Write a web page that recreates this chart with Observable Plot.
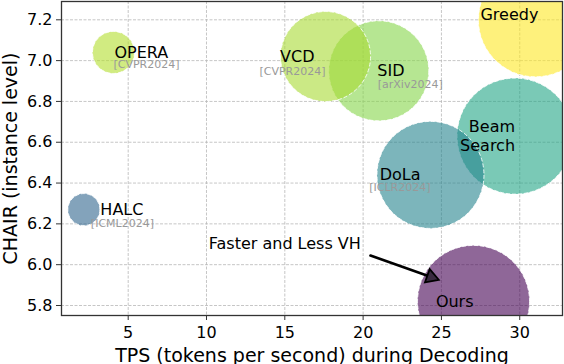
<!DOCTYPE html>
<html><head><meta charset="utf-8">
<script src="https://cdn.jsdelivr.net/npm/d3@7"></script>
<script src="https://cdn.jsdelivr.net/npm/@observablehq/plot@0.6"></script>
<style>
body{margin:0;background:#fff;}
#chart svg{display:block;}
</style></head><body><div id="chart"></div>
<script>
// ---- data ----
const methods = ["Greedy", "Beam\nSearch", "DoLa", "VCD", "SID", "OPERA", "HALC", "Ours"];
const venues  = ["", "", "[ICLR2024]", "[CVPR2024]", "[arXiv2024]", "[CVPR2024]", "[ICML2024]", ""];
const tps     = [31.0, 29.7, 24.3, 17.6, 21.0, 4.06, 2.17, 27.05];
const chair   = [7.20, 6.63, 6.44, 7.02, 6.95, 7.04, 6.27, 5.82];
const bubbleSize = [57, 58, 53.5, 45, 50, 21, 16, 56];
const xTicks = [5, 10, 15, 20, 25, 30];
const yTicks = [5.8, 6.0, 6.2, 6.4, 6.6, 6.8, 7.0, 7.2];
const xLabel = "TPS (tokens per second) during Decoding";
const yLabel = "CHAIR (instance level)";
const noteText = "Faster and Less VH";
const noteAt = [15, 6.1];
const arrowFrom = [20.47, 6.045];
const arrowTo = [24.83, 5.926];

// ---- layout ----
const W = 564, H = 364, mL = 61, mR = 2, mT = 1, mB = 49;
const xDomain = [0.742, 32.73], yDomain = [5.751, 7.2897];

const nameLayout = {
  "Greedy": {a: "end", dx: 3, dy: -6},
  "Beam\nSearch": {a: "end", dx: 0, dy: -1},
  "DoLa": {a: "end", dx: -10, dy: -1},
  "VCD": {a: "end", dx: -11, dy: -0.5},
  "SID": {a: "start", dx: -1.5, dy: -0.5},
  "OPERA": {a: "start", dx: 1, dy: -0.5},
  "HALC": {a: "start", dx: 16.5, dy: -0.5},
  "Ours": {a: "end", dx: 0, dy: -0.5}
};
const venueLayout = {
  "DoLa": {a: "end", dx: 0, dy: 13},
  "VCD": {a: "end", dx: 0, dy: 14.5},
  "SID": {a: "start", dx: -1, dy: 13.5},
  "OPERA": {a: "start", dx: 0, dy: 12.5},
  "HALC": {a: "start", dx: 7, dy: 13.5}
};

const rows = methods.map((m, i) => ({method: m, venue: venues[i], tps: tps[i], chair: chair[i], size: bubbleSize[i]}));

const nameMarks = rows.map(d => {
  const L = nameLayout[d.method];
  return Plot.text([d], {x: "tps", y: "chair", text: "method", textAnchor: L.a, dx: L.dx, dy: L.dy,
    fontSize: 16, fill: "black", lineHeight: 1.18});
});
const venueMarks = rows.filter(d => d.venue).map(d => {
  const L = venueLayout[d.method];
  return Plot.text([d], {x: "tps", y: "chair", text: "venue", textAnchor: L.a, dx: L.dx, dy: L.dy,
    fontSize: 11, fill: "#999"});
});

// arrow head geometry (pixel direction from the scale setup)
const kx = (W - mL - mR) / (xDomain[1] - xDomain[0]);
const ky = (H - mT - mB) / (yDomain[1] - yDomain[0]);
const pdx = (arrowTo[0] - arrowFrom[0]) * kx, pdy = -(arrowTo[1] - arrowFrom[1]) * ky;
const ang = Math.atan2(pdy, pdx);
const headR = 5.2;
const headSize = Math.PI * headR * headR;
const yTri = Math.sqrt(headSize / (3 * Math.sqrt(3)));
const tipDist = 2 * yTri, headLen = 3 * yTri;

const chart = Plot.plot({
  width: W, height: H,
  marginLeft: mL, marginRight: mR, marginTop: mT, marginBottom: mB,
  x: {domain: xDomain},
  y: {domain: yDomain},
  r: {type: "linear", domain: [0, 60], range: [0, 60]},
  color: {scheme: "viridis"},
  style: {fontFamily: "DejaVu Sans", fontSize: "16px", color: "black", background: "white"},
  marks: [
    Plot.gridX(xTicks, {stroke: "#b8b8b8", strokeOpacity: 1, strokeWidth: 0.8, strokeDasharray: "3,1.5"}),
    Plot.gridY(yTicks, {stroke: "#b8b8b8", strokeOpacity: 1, strokeWidth: 0.8, strokeDasharray: "3,1.5"}),
    Plot.dot(rows, {x: "tps", y: "chair", r: "size", fill: "chair", fillOpacity: 0.6,
      stroke: "white", strokeOpacity: 0.85, strokeWidth: 1, strokeDasharray: "4,2", clip: true}),
    ...nameMarks,
    ...venueMarks,
    Plot.text([noteText], {x: () => noteAt[0], y: () => noteAt[1], text: d => d, fontSize: 16, fill: "black"}),
    Plot.arrow([0], {x1: () => arrowFrom[0], y1: () => arrowFrom[1], x2: () => arrowTo[0], y2: () => arrowTo[1],
      stroke: "black", strokeWidth: 2.6, headLength: 0, insetEnd: headLen - 1}),
    Plot.dot([0], {x: () => arrowTo[0], y: () => arrowTo[1], symbol: "triangle", r: headR,
      rotate: ang * 180 / Math.PI + 90,
      dx: -tipDist * Math.cos(ang), dy: -tipDist * Math.sin(ang),
      fill: "#3a2a40", stroke: "black", strokeWidth: 1.8, strokeLinejoin: "miter"}),
    Plot.axisX(xTicks, {tickSize: 5, tickPadding: 6.5, fontSize: 16, label: null, stroke: "#333", fill: "black"}),
    Plot.axisY(yTicks, {tickSize: 5, tickPadding: 4, fontSize: 16, label: null, stroke: "#333", fill: "black", tickFormat: d3.format(".1f")}),
    Plot.text([xLabel], {frameAnchor: "bottom", dy: 40, textAnchor: "middle", lineAnchor: "middle", text: d => d, fontSize: 19, fill: "black"}),
    Plot.text([yLabel], {frameAnchor: "left", dx: -51, rotate: -90, textAnchor: "middle", lineAnchor: "middle", text: d => d, fontSize: 19, fill: "black"}),
    Plot.frame({stroke: "#333", strokeWidth: 1.3})
  ]
});
document.getElementById("chart").appendChild(chart);
</script>
</body></html>
